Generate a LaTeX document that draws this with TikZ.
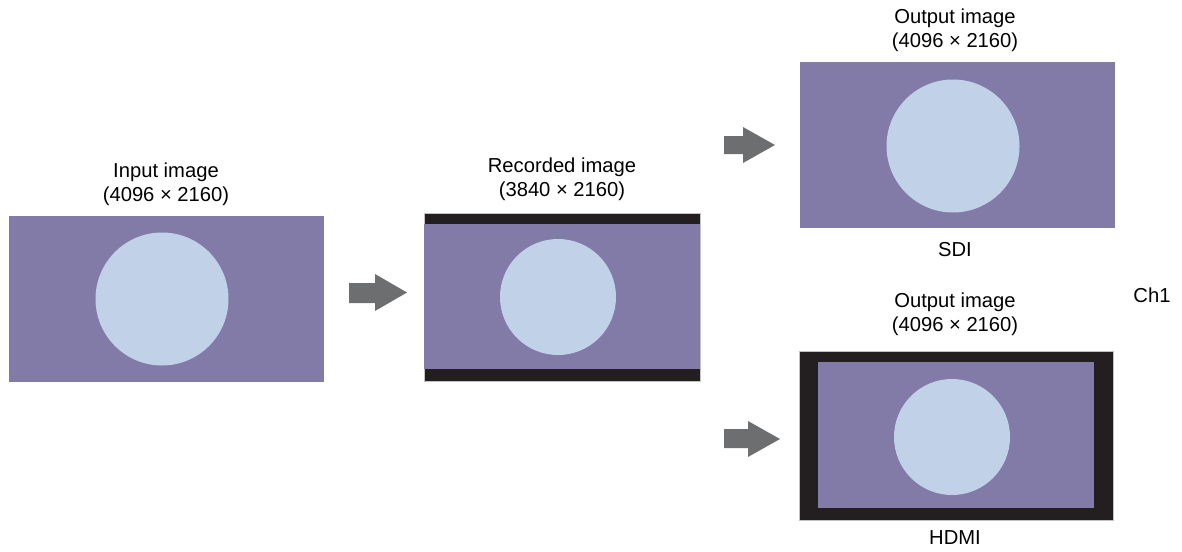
\documentclass[tikz,border=0pt]{standalone}
\usepackage{fontspec}
\setmainfont{Liberation Sans}
\begin{document}
\begin{tikzpicture}[x=0.02cm, y=-0.02cm]
            % Define the colors
            \definecolor{framecolor}{RGB}{130, 123, 168}
            \definecolor{circlecolor}{RGB}{193, 209, 232}
            \definecolor{barcolor}{RGB}{35, 31, 32}
            \definecolor{arrowcolor}{RGB}{109, 110, 112}
            \definecolor{edgecolor}{RGB}{195, 195, 195}
            \tikzset{caption/.style={align=center, font=\fontsize{11.5}{13.5}\selectfont}}

            \useasboundingbox (0,0) rectangle (1182,551);

            % Draw the Input image
            \fill[framecolor] (9,216) rectangle (324,382);
            \fill[circlecolor] (162,299) circle (66.5);
            \node[caption] (inlabel) at (166,184) {Input image\\(4096 × 2160)};

            % Arrow to the Recorded image
            \fill[arrowcolor] (349,283) -- (375,283) -- (375,274) -- (407,292.5) -- (375,311) -- (375,303) -- (349,303) -- cycle;

            % Draw the Recorded image
            \filldraw[fill=barcolor, draw=edgecolor, line width=0.4pt] (424,213) rectangle (700,381);
            \fill[framecolor] (424,224) rectangle (700,369);
            \fill[circlecolor] (558,297) circle (58);
            \node[caption] (reclabel) at (562,179) {Recorded image\\(3840 × 2160)};

            % Arrow to the SDI output
            \fill[arrowcolor] (724,136) -- (743,136) -- (743,127) -- (775,145) -- (743,163) -- (743,154) -- (724,154) -- cycle;

            % Draw the SDI output image
            \fill[framecolor] (800,62) rectangle (1115,228);
            \fill[circlecolor] (953,146) circle (66.5);
            \node[caption] (sdilabel) at (955,30) {Output image\\(4096 × 2160)};
            \node[caption] (sdi) at (955,250) {SDI};

            % Arrow to the HDMI output
            \fill[arrowcolor] (724,429) -- (748,429) -- (748,421) -- (780,439) -- (748,457) -- (748,448) -- (724,448) -- cycle;

            % Draw the HDMI output image
            \filldraw[fill=barcolor, draw=edgecolor, line width=0.4pt] (799,351) rectangle (1113,520);
            \fill[framecolor] (818,362) rectangle (1094,508);
            \fill[circlecolor] (952,437) circle (58);
            \node[caption] (hdmilabel) at (955,314.5) {Output image\\(4096 × 2160)};
            \node[caption] (hdmi) at (955,538) {HDMI};

            % Channel
            \node[caption] (ch) at (1152,295) {Ch1};

        \end{tikzpicture}
\end{document}
